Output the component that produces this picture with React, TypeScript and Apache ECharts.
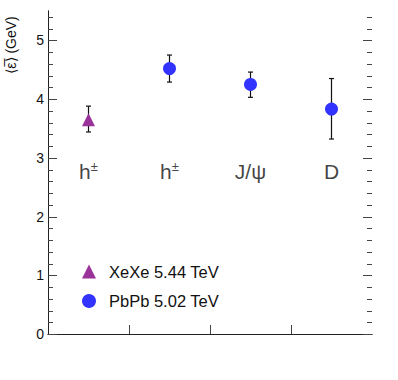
import React, { useEffect, useRef } from "react";
import * as echarts from "echarts";

const categories = ["h{s|±}", "h{s|±}", "J/ψ", "D"];
const xPositions = [0.5, 1.5, 2.5, 3.5];
const labelLevel = 2.77;

const xexeName = "XeXe 5.44 TeV";
const xexeX = [0.5];
const xexeValues = [3.65];
const xexeLow = [3.44];
const xexeHigh = [3.88];

const pbpbName = "PbPb 5.02 TeV";
const pbpbX = [1.5, 2.5, 3.5];
const pbpbValues = [4.52, 4.25, 3.83];
const pbpbLow = [4.29, 4.03, 3.32];
const pbpbHigh = [4.75, 4.46, 4.35];

const yRange = { min: 0, max: 5.5, interval: 1 };
const xRange = { min: 0, max: 4, interval: 1 };
const yMajorTicks = [0, 1, 2, 3, 4, 5];
const yMinorStep = 0.2;
const xMajorTicks = [1, 2, 3];

const FONT = "'Liberation Sans', Arial, Helvetica, sans-serif";
const AXIS = "#222";
const TICK = "#444";

export default function App() {
  const ref = useRef<HTMLDivElement>(null);
  useEffect(() => {
    document.body.style.margin = "0";
    if (!ref.current) return;
    const chart = echarts.init(ref.current, undefined, { renderer: "svg" });

    const errData = [
      ...xexeX.map((x, i) => [x, xexeLow[i], xexeHigh[i]]),
      ...pbpbX.map((x, i) => [x, pbpbLow[i], pbpbHigh[i]]),
    ];

    const yMinorTicks: number[] = [];
    for (let k = 1; Math.round(k * yMinorStep * 100) / 100 < yRange.max; k++) {
      const v = Math.round(k * yMinorStep * 100) / 100;
      if (!yMajorTicks.some((m) => Math.abs(m - v) < 1e-6)) yMinorTicks.push(v);
    }
    const yTickData = [
      ...yMajorTicks.map((v) => [xRange.min, v, 1]),
      ...yMinorTicks.map((v) => [xRange.min, v, 0]),
    ];
    const xTickData = xMajorTicks.map((v) => [v, yRange.min]);

    const renderErr = (params: any, api: any) => {
      const x = api.value(0);
      const lo = api.coord([x, api.value(1)]);
      const hi = api.coord([x, api.value(2)]);
      const w = 2.5;
      const style = { stroke: "#111", lineWidth: 1.2 };
      return {
        type: "group",
        children: [
          { type: "line", shape: { x1: lo[0], y1: lo[1], x2: hi[0], y2: hi[1] }, style },
          { type: "line", shape: { x1: lo[0] - w, y1: lo[1], x2: lo[0] + w, y2: lo[1] }, style },
          { type: "line", shape: { x1: hi[0] - w, y1: hi[1], x2: hi[0] + w, y2: hi[1] }, style },
        ],
      };
    };

    const renderYTick = (params: any, api: any) => {
      const v = api.value(1);
      const len = api.value(2) ? 9 : 5;
      const l = api.coord([xRange.min, v]);
      const r = api.coord([xRange.max, v]);
      const y = Math.round(l[1]) + 0.5;
      const style = { stroke: TICK, lineWidth: 1 };
      return {
        type: "group",
        children: [
          { type: "line", shape: { x1: l[0], y1: y, x2: l[0] + len, y2: y }, style },
          { type: "line", shape: { x1: r[0], y1: y, x2: r[0] - len, y2: y }, style },
        ],
      };
    };

    const renderXTick = (params: any, api: any) => {
      const p = api.coord([api.value(0), yRange.min]);
      const x = Math.round(p[0]) + 0.5;
      return {
        type: "line",
        shape: { x1: x, y1: p[1], x2: x, y2: p[1] - 9 },
        style: { stroke: TICK, lineWidth: 1 },
      };
    };

    const valueAxisCommon = {
      type: "value",
      min: yRange.min,
      max: yRange.max,
      interval: yRange.interval,
      splitLine: { show: false },
      axisLine: { show: true, lineStyle: { color: AXIS, width: 1 } },
      axisTick: { show: false },
      minorTick: { show: false },
    };

    chart.setOption({
      animation: false,
      backgroundColor: "#fff",
      grid: { left: 48, right: 26, top: 11, bottom: 46, containLabel: false },
      xAxis: [
        {
          type: "value",
          min: xRange.min,
          max: xRange.max,
          interval: xRange.interval,
          position: "bottom",
          splitLine: { show: false },
          axisLine: { show: true, lineStyle: { color: AXIS, width: 1 } },
          axisTick: { show: false },
          axisLabel: { show: false },
        },
        {
          type: "value",
          min: xRange.min,
          max: xRange.max,
          position: "top",
          splitLine: { show: false },
          axisLine: { show: true, lineStyle: { color: AXIS, width: 1 } },
          axisTick: { show: false },
          axisLabel: { show: false },
        },
      ],
      yAxis: [
        {
          ...valueAxisCommon,
          position: "left",
          axisLabel: {
            show: true,
            margin: 4,
            fontSize: 14,
            color: "#111",
            fontFamily: FONT,
            showMaxLabel: false,
          },
        },
        {
          ...valueAxisCommon,
          position: "right",
          axisLabel: { show: false },
        },
      ],
      legend: {
        orient: "vertical",
        left: 82,
        top: 263,
        padding: 0,
        itemWidth: 14,
        itemHeight: 14,
        itemGap: 12.5,
        textStyle: { fontSize: 16.5, color: "#111", fontFamily: FONT, padding: [0, 0, 0, 8] },
        data: [
          { name: xexeName, icon: "triangle" },
          { name: pbpbName, icon: "circle" },
        ],
      },
      graphic: [
        {
          type: "text",
          x: 11,
          y: 45,
          rotation: Math.PI / 2,
          style: {
            text: "⟨ε̅⟩ (GeV)",
            fontSize: 14,
            fontFamily: FONT,
            fill: "#111",
            align: "center",
            verticalAlign: "middle",
          },
        },
      ],
      series: [
        {
          type: "custom",
          name: "yticks",
          renderItem: renderYTick,
          data: yTickData,
          encode: { x: 0, y: 1 },
          clip: false,
          silent: true,
          z: 1,
        },
        {
          type: "custom",
          name: "xticks",
          renderItem: renderXTick,
          data: xTickData,
          encode: { x: 0, y: 1 },
          clip: false,
          silent: true,
          z: 1,
        },
        {
          type: "custom",
          name: "err",
          renderItem: renderErr,
          data: errData,
          encode: { x: 0, y: [1, 2] },
          z: 2,
          silent: true,
        },
        {
          type: "scatter",
          name: xexeName,
          symbol: "triangle",
          symbolSize: 13,
          itemStyle: { color: "#993399", opacity: 1 },
          data: xexeX.map((x, i) => [x, xexeValues[i]]),
          z: 3,
        },
        {
          type: "scatter",
          name: pbpbName,
          symbol: "circle",
          symbolSize: 13,
          itemStyle: { color: "#3333FF", opacity: 1 },
          data: pbpbX.map((x, i) => [x, pbpbValues[i]]),
          z: 3,
        },
        {
          type: "scatter",
          name: "labels",
          symbolSize: 0,
          silent: true,
          data: xPositions.map((x, i) => ({ value: [x, labelLevel], name: categories[i] })),
          label: {
            show: true,
            position: "inside",
            formatter: (p: any) => p.name,
            fontSize: 21,
            color: "#111",
            fontFamily: FONT,
            rich: {
              s: { fontSize: 13, color: "#111", fontFamily: FONT, padding: [0, 0, 10, 0] },
            },
          },
        },
      ],
    });
    return () => chart.dispose();
  }, []);
  return <div ref={ref} style={{ width: 398, height: 380 }} />;
}
